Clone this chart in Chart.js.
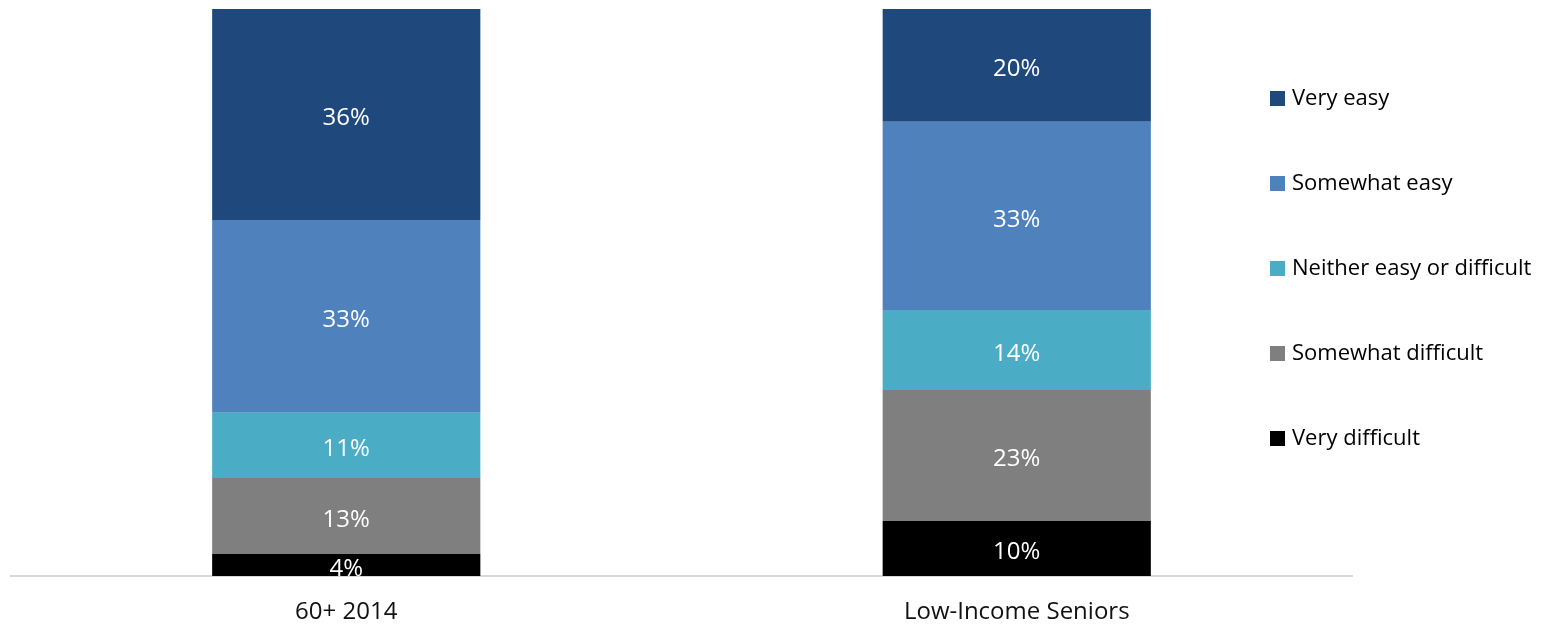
<!DOCTYPE html>
<html>
<head>
    <title>Ease ratings</title>
    <script src="https://cdn.jsdelivr.net/npm/chart.js"></script>
    <style>
        body {
            margin: 0;
            background: #fff;
        }
        #wrap {
            width: 1559px;
            height: 629px;
        }
    </style>
</head>
<body>
    <div id="wrap"><canvas id="easeChart" width="1559" height="629"></canvas></div>

    <script>
        // groups along the x axis
        const groups = ['60+ 2014', 'Low-Income Seniors'];

        // segment heights (share of each bar), bottom to top
        const veryDifficult = [3.9, 9.7];
        const somewhatDifficult = [13.4, 23.1];
        const neitherEasyDifficult = [11.5, 14.1];
        const somewhatEasy = [34.0, 33.2];
        const veryEasy = [37.2, 19.9];

        // printed labels on each segment
        const veryDifficultText = ['4%', '10%'];
        const somewhatDifficultText = ['13%', '23%'];
        const neitherEasyDifficultText = ['11%', '14%'];
        const somewhatEasyText = ['33%', '33%'];
        const veryEasyText = ['36%', '20%'];

        const datasets = [
            { label: 'Very difficult', data: veryDifficult, texts: veryDifficultText, backgroundColor: '#000000' },
            { label: 'Somewhat difficult', data: somewhatDifficult, texts: somewhatDifficultText, backgroundColor: '#7f7f7f' },
            { label: 'Neither easy or difficult', data: neitherEasyDifficult, texts: neitherEasyDifficultText, backgroundColor: '#4bacc6' },
            { label: 'Somewhat easy', data: somewhatEasy, texts: somewhatEasyText, backgroundColor: '#4f81bd' },
            { label: 'Very easy', data: veryEasy, texts: veryEasyText, backgroundColor: '#1f497c' }
        ];
        datasets.forEach(ds => {
            ds.barPercentage = 0.4;
            ds.categoryPercentage = 1.0;
        });

        // white value labels in the middle of each segment
        const segmentLabels = {
            id: 'segmentLabels',
            afterDatasetsDraw(chart) {
                const ctx = chart.ctx;
                ctx.save();
                ctx.fillStyle = '#ffffff';
                ctx.font = '24px "Open Sans"';
                ctx.textAlign = 'center';
                ctx.textBaseline = 'middle';
                chart.data.datasets.forEach((ds, i) => {
                    chart.getDatasetMeta(i).data.forEach((bar, j) => {
                        const mid = (bar.y + bar.base) / 2;
                        ctx.fillText(ds.texts[j], bar.x, mid + 4);
                    });
                });
                ctx.restore();
            }
        };

        // legend on the right, top item first
        const sideLegend = {
            id: 'sideLegend',
            afterDraw(chart) {
                const ctx = chart.ctx;
                const items = chart.data.datasets.slice().reverse();
                ctx.save();
                ctx.font = '22px "Open Sans"';
                ctx.textBaseline = 'middle';
                ctx.textAlign = 'left';
                items.forEach((ds, k) => {
                    const y = 98 + k * 85;
                    ctx.fillStyle = ds.backgroundColor;
                    ctx.fillRect(1270, y - 7, 15, 15);
                    ctx.fillStyle = '#000000';
                    ctx.fillText(ds.label, 1292, y + 1);
                });
                ctx.restore();
            }
        };

        const ctx = document.getElementById('easeChart').getContext('2d');
        new Chart(ctx, {
            type: 'bar',
            data: {
                labels: groups,
                datasets: datasets
            },
            options: {
                responsive: false,
                animation: false,
                layout: {
                    padding: { left: 11, right: 207, top: 9, bottom: 0 }
                },
                plugins: {
                    legend: { display: false },
                    tooltip: { enabled: false }
                },
                scales: {
                    x: {
                        stacked: true,
                        grid: { display: false, drawTicks: false },
                        border: { color: '#d9d9d9', width: 2 },
                        ticks: {
                            color: '#111111',
                            font: { family: 'Open Sans', size: 24 },
                            padding: 22
                        },
                        afterFit(scale) {
                            scale.height = 53;
                        }
                    },
                    y: {
                        stacked: true,
                        display: false,
                        min: 0,
                        max: 100
                    }
                }
            },
            plugins: [segmentLabels, sideLegend]
        });
    </script>
</body>
</html>
